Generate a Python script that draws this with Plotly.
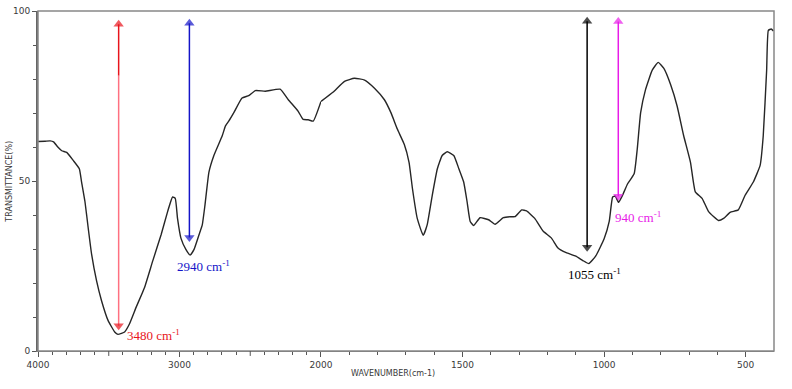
import plotly.graph_objects as go

# Spectrum data (wavenumber cm-1, transmittance %)
wavenumber = [4000, 3950, 3914, 3890, 3860, 3832, 3797, 3750, 3708, 3692, 3668, 3645, 3621, 3586,
              3551, 3505, 3458, 3435, 3410, 3388, 3353, 3306, 3247, 3189, 3130, 3084, 3049, 3030,
              3014, 2990, 2955, 2925, 2897, 2862, 2839, 2820, 2792, 2757, 2698, 2675, 2652, 2616,
              2558, 2511, 2464, 2394, 2289, 2231, 2161, 2126, 2090, 2055, 2000,
              1958, 1917, 1882, 1846, 1811, 1776, 1753, 1730, 1706, 1689, 1677, 1660, 1639, 1625,
              1607, 1589, 1572, 1554, 1531, 1513, 1496, 1484, 1473, 1461, 1438, 1408, 1385, 1356,
              1332, 1315, 1291, 1274, 1245, 1215, 1186, 1163, 1134, 1100, 1075, 1054, 1030, 1000,
              982, 970, 961, 949, 935, 917, 894, 883, 871, 854, 830, 809, 789, 765, 742, 719, 695,
              678, 654, 631, 596, 578, 555, 526, 502, 473, 449, 438, 426, 420, 410, 402]
transmittance = [61.6, 61.7, 61.8, 61.5, 60.0, 58.9, 58.4, 56.0, 53.6, 49.7, 43.9, 36.1, 28.4, 20.6,
                 14.8, 9.0, 5.6, 4.9, 5.2, 5.6, 8.0, 12.9, 18.7, 26.5, 34.2, 41.0, 45.3, 44.9,
                 39.0, 33.2, 29.9, 28.2, 29.9, 34.2, 37.1, 42.9, 52.6, 57.5, 63.3, 66.2, 67.6, 70.1,
                 74.4, 75.1, 76.6, 76.4, 77.0, 73.9, 70.5, 68.1, 68.0, 67.6, 73.4,
                 76.1, 79.3, 80.2, 79.7, 77.3, 73.9, 70.1, 65.2, 60.8, 55.5, 47.8, 39.0, 34.0, 37.1,
                 45.8, 53.6, 57.5, 58.6, 57.5, 53.6, 49.7, 43.9, 38.1, 36.9, 39.2, 38.6, 37.3, 39.2,
                 39.5, 39.5, 41.5, 41.2, 39.0, 35.2, 33.2, 30.3, 28.9, 27.9, 26.6, 25.7, 27.9, 33.0,
                 38.1, 45.3, 45.6, 43.7, 45.8, 49.2, 52.1, 59.4, 70.1, 76.8, 82.6, 84.9, 83.1, 78.3,
                 72.0, 63.3, 55.5, 46.8, 44.9, 41.0, 38.4, 39.0, 40.8, 41.5, 45.8, 49.7, 54.6, 63.3,
                 82.6, 94.3, 94.7, 94.1]

# Peak annotations
peak_labels = ["3480 cm<sup>-1</sup>", "2940 cm<sup>-1</sup>", "1055 cm<sup>-1</sup>", "940 cm<sup>-1</sup>"]
peak_arrow_x = [3430, 2930, 1060, 950]
peak_arrow_top = [97.7, 98.0, 98.6, 98.5]
peak_arrow_bottom = [5.8, 31.8, 28.9, 43.9]
peak_label_x = [3382, 3032, 1133, 967]
peak_label_y = [4.7, 25.0, 22.7, 39.5]
peak_colors = ["#e8141c", "#1414c8", "#000000", "#e81ce8"]
red_light = "#ff7080"
red_split = 81.0

hi_ticks = [4000, 3000, 2000]
hi_major_unlabeled = [3500, 2500]
lo_ticks = [1500, 1000, 500]
y_ticks = [0, 50, 100]

hi_w = [w for w in wavenumber if w >= 2000]
hi_t = [t for w, t in zip(wavenumber, transmittance) if w >= 2000]
lo_w = [w for w in wavenumber if w <= 2000]
lo_t = [t for w, t in zip(wavenumber, transmittance) if w <= 2000]

SPLIT = 0.3845
L, R, T, B = 38, 13, 6, 38
PH = 389 - T - B
line_style = dict(color="#262626", width=1.4, shape="spline", smoothing=0.4)

fig = go.Figure()
fig.add_trace(go.Scatter(x=hi_w, y=hi_t, mode="lines", line=line_style, xaxis="x", yaxis="y",
                         showlegend=False, hoverinfo="skip"))
fig.add_trace(go.Scatter(x=lo_w, y=lo_t, mode="lines", line=line_style, xaxis="x2", yaxis="y",
                         showlegend=False, hoverinfo="skip"))

HEAD = 1.6  # arrowhead half-height offset in y units (~5.5 px)
for i in range(len(peak_labels)):
    xa = "x" if peak_arrow_x[i] >= 2000 else "x2"
    col = peak_colors[i]
    x0 = peak_arrow_x[i]
    top, bot = peak_arrow_top[i], peak_arrow_bottom[i]
    if i == 0:
        fig.add_trace(go.Scatter(x=[x0, x0], y=[bot + HEAD, red_split], mode="lines",
                                 line=dict(color=red_light, width=1.5), xaxis=xa, yaxis="y",
                                 showlegend=False, hoverinfo="skip"))
        fig.add_trace(go.Scatter(x=[x0, x0], y=[red_split, top - HEAD], mode="lines",
                                 line=dict(color=col, width=1.5), xaxis=xa, yaxis="y",
                                 showlegend=False, hoverinfo="skip"))
    else:
        fig.add_trace(go.Scatter(x=[x0, x0], y=[bot + HEAD, top - HEAD], mode="lines",
                                 line=dict(color=col, width=1.5), xaxis=xa, yaxis="y",
                                 showlegend=False, hoverinfo="skip"))
    fig.add_trace(go.Scatter(x=[x0, x0], y=[top - HEAD, bot + HEAD], mode="markers",
                             marker=dict(symbol=["triangle-up", "triangle-down"], size=[9, 9],
                                         color=col, line=dict(width=0)),
                             xaxis=xa, yaxis="y", showlegend=False, hoverinfo="skip"))

tickfont = dict(family="DejaVu Sans", size=9, color="#3a3a3a")
axcommon = dict(showgrid=False, zeroline=False, showline=True, linecolor="#777", linewidth=1.3,
                ticks="outside", ticklen=5, tickwidth=1, tickcolor="#555", tickfont=tickfont,
                tickmode="array")

shapes = [dict(type="rect", xref="paper", yref="paper", x0=0, x1=1, y0=0, y1=1,
               line=dict(color="#888", width=1.5), layer="above")]
for v in hi_major_unlabeled:
    shapes.append(dict(type="line", xref="x", yref="paper", x0=v, x1=v, y0=0, y1=-5 / PH,
                       line=dict(color="#555", width=1)))

fig.update_layout(
    width=792, height=389,
    margin=dict(l=L, r=R, t=T, b=B),
    paper_bgcolor="white", plot_bgcolor="white",
    xaxis=dict(domain=[0, SPLIT], range=[4000, 2000], anchor="y",
               tickvals=hi_ticks, ticktext=[str(v) for v in hi_ticks],
               minor=dict(tickmode="array",
                          tickvals=[v for v in range(3900, 2000, -100) if v not in hi_major_unlabeled],
                          ticklen=3, tickcolor="#555", ticks="outside"),
               **axcommon),
    xaxis2=dict(domain=[SPLIT, 1], range=[2000, 400], anchor="y",
                tickvals=lo_ticks, ticktext=[str(v) for v in lo_ticks],
                minor=dict(tickmode="array", tickvals=list(range(1900, 400, -100)),
                           ticklen=3, tickcolor="#555", ticks="outside"),
                **axcommon),
    yaxis=dict(range=[0, 100], anchor="x", tickvals=y_ticks, ticktext=[str(v) for v in y_ticks],
               minor=dict(tickmode="array", tickvals=list(range(10, 100, 10)),
                          ticklen=3, tickcolor="#555", ticks="outside"),
               showgrid=False, zeroline=False, showline=True, linecolor="#666", linewidth=2,
               ticks="outside", ticklen=4, tickcolor="#555", tickfont=tickfont, tickmode="array"),
    shapes=shapes,
)

annotations = []
for i in range(len(peak_labels)):
    lr = "x" if peak_label_x[i] >= 2000 else "x2"
    annotations.append(dict(x=peak_label_x[i], y=peak_label_y[i], xref=lr, yref="y",
                            text=peak_labels[i], showarrow=False, xanchor="left", yanchor="middle",
                            font=dict(family="Liberation Serif", size=13, color=peak_colors[i])))

PW = 792 - L - R
annotations.append(dict(x=(395 - L) / PW, y=(389 - B - 374) / PH, xref="paper", yref="paper",
                        text="WAVENUMBER(cm-1)", showarrow=False, xanchor="center", yanchor="middle",
                        font=dict(family="DejaVu Sans", size=8, color="#3a3a3a")))
annotations.append(dict(x=(9 - L) / PW, y=(389 - B - 179) / PH, xref="paper", yref="paper",
                        text="TRANSMITTANCE(%)", textangle=-90, showarrow=False,
                        xanchor="center", yanchor="middle",
                        font=dict(family="DejaVu Sans", size=8, color="#3a3a3a")))

fig.update_layout(annotations=annotations)
fig.write_html("out.html", config={"displayModeBar": False},
               post_script="document.body.style.margin='0';document.body.style.padding='0';")
